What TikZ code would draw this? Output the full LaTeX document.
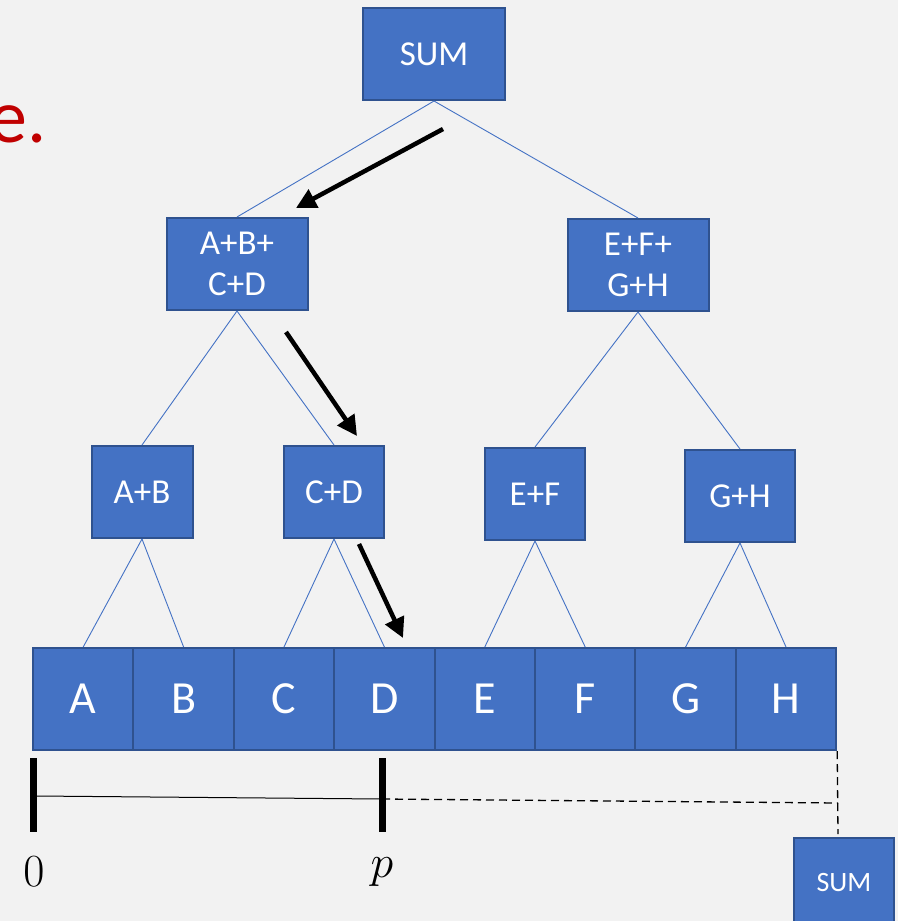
\documentclass[tikz,border=0pt]{standalone}
\usepackage{fix-cm}
\usepackage{fontspec}
\setsansfont{Carlito}
\usetikzlibrary{arrows.meta}

\definecolor{boxfill}{HTML}{4472C4}
\definecolor{boxline}{HTML}{2F528F}
\definecolor{slidebg}{HTML}{F2F2F2}
\definecolor{titlered}{HTML}{C00000}

\tikzset{
  box/.style={draw=boxline, line width=2pt, fill=boxfill, text=white,
    inner sep=0pt, align=center, minimum height=92pt,
    font=\sffamily\fontsize{35}{41}\selectfont},
  leaf/.style={box, minimum width=100.4pt, minimum height=102pt,
    font=\sffamily\fontsize{46}{50}\selectfont},
  link/.style={draw=boxfill, line width=0.9pt},
  hint/.style={line width=4.5pt, -{Triangle[length=20pt,width=20pt]}},
  tick/.style={line width=7pt},
  guide/.style={line width=1.3pt, dash pattern=on 8pt off 5pt}
}

\begin{document}
\begin{tikzpicture}[x=1pt,y=-1pt]
\useasboundingbox (0,0) rectangle (898,921);
\fill[slidebg] (0,0) rectangle (898,921);

% title fragment
\node[anchor=base east, inner sep=0pt, text=titlered,
  font=\sffamily\fontsize{76}{80}\selectfont] (title) at (47,142) {e.};

% reduction tree
\node[box, minimum width=142pt] (sum) at (434,54) {SUM};
\node[box, minimum width=141pt] (abcd) at (237,264) {A+B+\\C+D};
\node[box, minimum width=141pt] (efgh) at (638,265) {E+F+\\G+H};
\node[box, minimum width=101pt] (ab) at (142,492) {A+B};
\node[box, minimum width=100pt] (cd) at (334,492) {C+D};
\node[box, minimum width=100pt] (ef) at (535,494) {E+F};
\node[box, minimum width=110pt] (gh) at (740,496) {G+H};

\foreach \l [count=\i] in {A,B,C,D,E,F,G,H}
  \node[leaf] (\l) at ({33+100.4*\i-50.2},699) {\l};

\path[link]
  (sum.south) edge (abcd.north)
  (sum.south) edge (efgh.north)
  (abcd.south) edge (ab.north)
  (abcd.south) edge (cd.north)
  (efgh.south) edge (ef.north)
  (efgh.south) edge (gh.north)
  (ab.south) edge (A.north)
  (ab.south) edge (B.north)
  (cd.south) edge (C.north)
  (cd.south) edge (D.north)
  (ef.south) edge (E.north)
  (ef.south) edge (F.north)
  (gh.south) edge (G.north)
  (gh.south) edge (H.north);

% path down to D
\coordinate (d1s) at (443,129);
\coordinate (d1e) at (296,208);
\coordinate (d2s) at (286,332);
\coordinate (d2e) at (357,436);
\coordinate (d3s) at (359,544);
\coordinate (d3e) at (403,638);
\draw[hint] (d1s) -- (d1e);
\draw[hint] (d2s) -- (d2e);
\draw[hint] (d3s) -- (d3e);

% range 0..p
\coordinate (z0a) at (33,758);
\coordinate (z0b) at (33,832);
\coordinate (z0m) at (36,796);
\coordinate (zpa) at (382,758);
\coordinate (zpb) at (382,832);
\coordinate (zpm) at (382,799);
\coordinate (zr) at (838,803);
\coordinate (zd) at (838,834);
\draw[tick] (z0a) -- (z0b);
\draw[tick] (zpa) -- (zpb);
\draw[line width=1pt] (z0m) -- (zpm);
\draw[guide] (zpm) -- (zr);
\draw[guide] (H.south east) -- (zd);

\node[font=\fontsize{46}{50}\selectfont] (zero) at (34,872) {$0$};
\node[font=\fontsize{46}{50}\selectfont] (plabel) at (382,872) {$p$};

\node[box, minimum width=100pt, minimum height=90pt,
  font=\sffamily\fontsize{28}{32}\selectfont] (total) at (844,883) {SUM};
\end{tikzpicture}
\end{document}
